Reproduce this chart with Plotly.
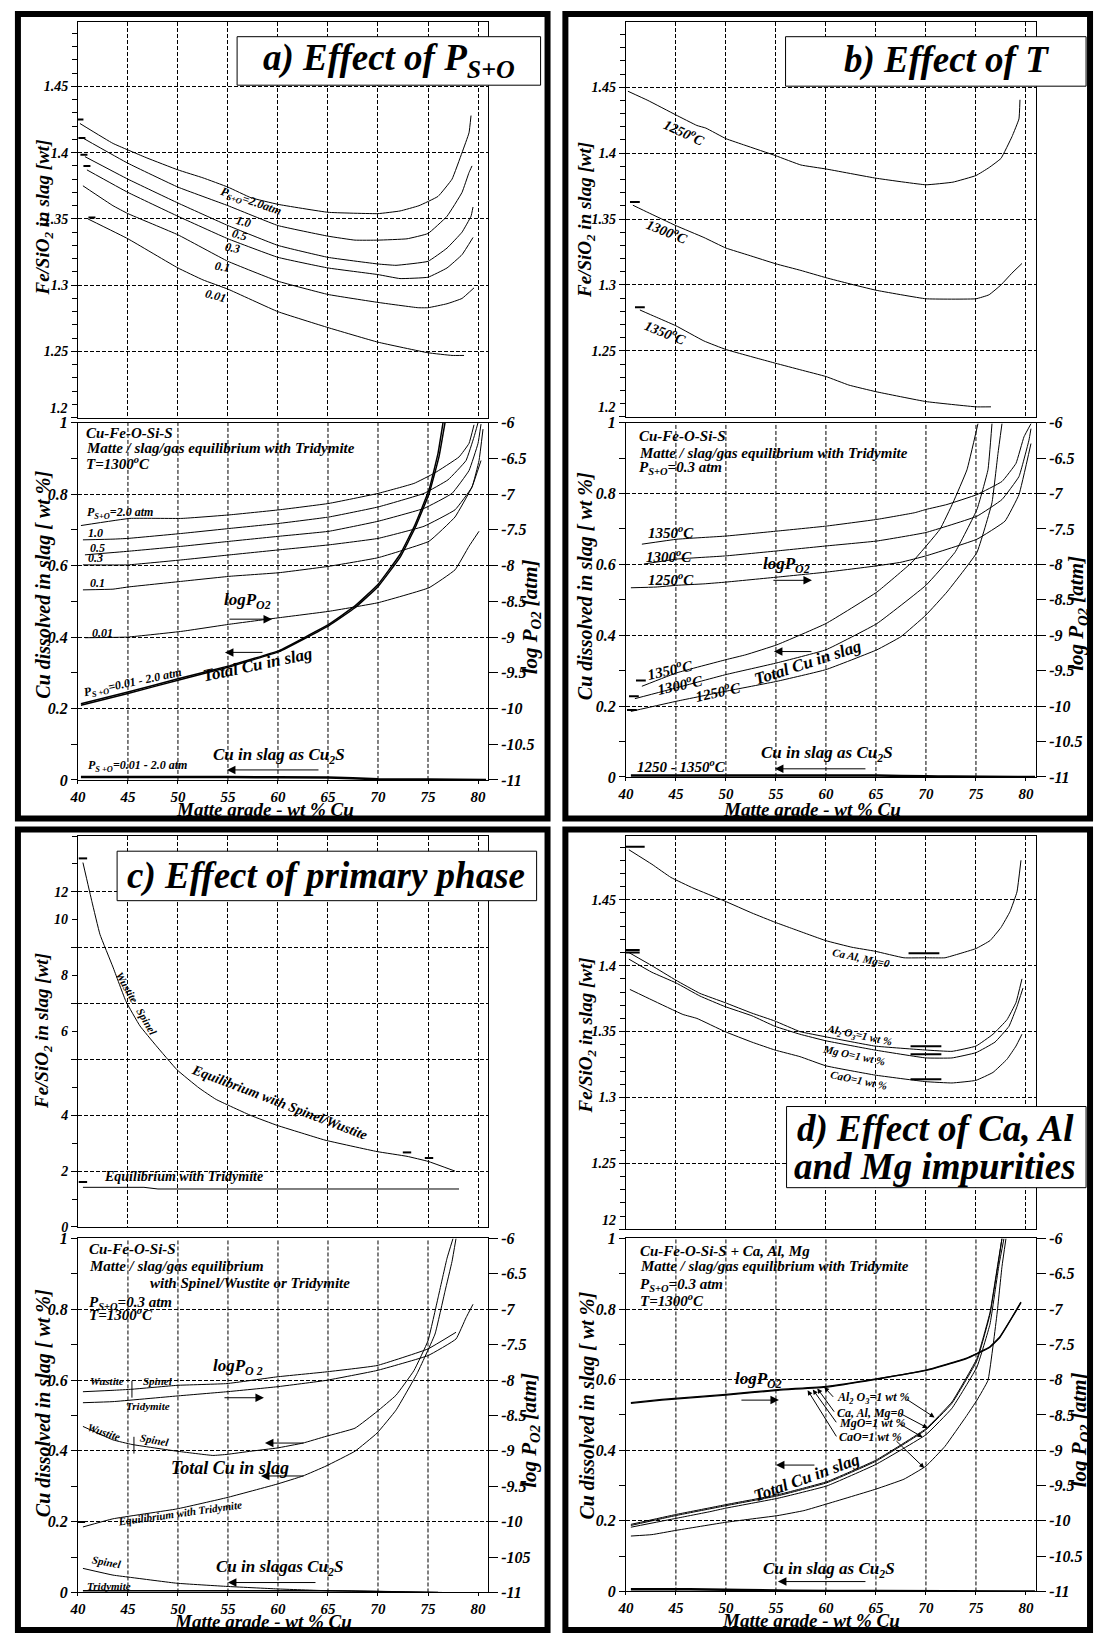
import plotly.graph_objects as go

FONT = "Liberation Serif"
W, H = 1094, 1644

# ---------------- tick labels ----------------
MATTE_TICKS = [40, 45, 50, 55, 60, 65, 70, 75, 80]
MATTE_LABELS = ["40", "45", "50", "55", "60", "65", "70", "75", "80"]
MATTE_GRID_UP = [45, 50, 55, 60, 65, 70, 75, 80]
MATTE_GRID_LO = [45, 50, 55, 60, 65, 70, 75]
CU_TICKS = [0, 0.2, 0.4, 0.6, 0.8, 1]
CU_LABELS = ["0", "0.2", "0.4", "0.6", "0.8", "1"]
LOGP_TICKS = [-11, -10.5, -10, -9.5, -9, -8.5, -8, -7.5, -7, -6.5, -6]
LOGP_LABELS = ["-11", "-10.5", "-10", "-9.5", "-9", "-8.5", "-8", "-7.5", "-7", "-6.5", "-6"]
LOGP_LABELS_C = ["-11", "-105", "-10", "-9.5", "-9", "-8.5", "-8", "-7.5", "-7", "-6.5", "-6"]
FE_TICKS = [1.2, 1.25, 1.3, 1.35, 1.4, 1.45]
FE_LABELS = ["", "1.25", "1.3", "1.35", "1.4", "1.45"]
FE_BOTTOM_LABELS = ["1.2", "1.2", None, "12"]   # bottom label of each upper panel, drawn slightly above the frame
FE_TICKS_C = [0, 2, 4, 6, 8, 10, 12]
FE_LABELS_C = ["0", "2", "4", "", "", "", "12"]
FE_SHIFTED_C = [7, 9, 11]
FE_SHIFTED_C_LABELS = ["6", "8", "10"]

# ---------------- panel a: effect of P(S+O) ----------------
A_FE20_X = [40.2, 43.5, 46.9, 50.0, 52.5, 55.0, 57.3, 60.0, 65.0, 70.0, 72.2, 74.1, 76.0, 77.4, 78.4, 79.1, 79.3]
A_FE20_Y = [1.422, 1.407, 1.396, 1.387, 1.381, 1.374, 1.366, 1.361, 1.355, 1.354, 1.356, 1.360, 1.367, 1.380, 1.400, 1.415, 1.428]
A_FE10_X = [40.5, 45.0, 50.0, 55.0, 60.0, 65.0, 67.7, 70.0, 72.9, 75.0, 76.9, 78.4, 79.1, 79.4]
A_FE10_Y = [1.411, 1.392, 1.374, 1.360, 1.345, 1.337, 1.334, 1.334, 1.335, 1.339, 1.352, 1.370, 1.385, 1.390]
A_FE05_X = [40.7, 45.0, 50.0, 55.0, 60.0, 65.0, 70.0, 71.8, 75.0, 76.9, 78.4, 79.3, 79.5]
A_FE05_Y = [1.397, 1.380, 1.362, 1.345, 1.330, 1.321, 1.316, 1.315, 1.318, 1.328, 1.340, 1.352, 1.359]
A_FE03_X = [40.9, 45.0, 50.0, 55.0, 60.0, 65.0, 70.0, 72.2, 75.0, 76.9, 78.4, 79.5]
A_FE03_Y = [1.387, 1.370, 1.352, 1.335, 1.321, 1.313, 1.308, 1.305, 1.306, 1.313, 1.323, 1.336]
A_FE01_X = [40.5, 43.5, 45.0, 50.0, 55.0, 60.0, 65.0, 70.0, 74.0, 75.0, 76.9, 78.4, 79.6]
A_FE01_Y = [1.375, 1.360, 1.354, 1.338, 1.318, 1.303, 1.293, 1.287, 1.283, 1.283, 1.286, 1.290, 1.298]
A_FE001_X = [41.0, 45.0, 50.0, 52.5, 55.0, 60.0, 65.0, 70.0, 75.0, 77.4, 78.6]
A_FE001_Y = [1.350, 1.335, 1.313, 1.304, 1.297, 1.280, 1.268, 1.257, 1.249, 1.247, 1.247]
A_PTS_X = [40.2, 40.4, 40.6, 40.9, 41.4]
A_PTS_Y = [1.425, 1.411, 1.3985, 1.390, 1.351]

A_PO20_X = [40.3, 45.2, 50.4, 55.2, 60.1, 65.1, 70.0, 73.6, 75.6, 78.1, 79.1, 79.6]
A_PO20_Y = [-7.44, -7.34, -7.34, -7.29, -7.22, -7.13, -6.99, -6.85, -6.71, -6.48, -6.29, -6.03]
A_PO10_X = [40.5, 43.5, 45.0, 50.4, 55.2, 60.1, 65.1, 70.0, 74.6, 77.0, 78.8, 79.6, 80.0]
A_PO10_Y = [-7.64, -7.63, -7.62, -7.55, -7.48, -7.41, -7.32, -7.18, -6.99, -6.80, -6.53, -6.20, -6.00]
A_PO05_X = [40.7, 45.0, 50.4, 55.2, 60.1, 65.1, 70.0, 74.6, 77.4, 79.1, 80.0, 80.3]
A_PO05_Y = [-7.85, -7.80, -7.73, -7.66, -7.59, -7.52, -7.38, -7.20, -6.99, -6.67, -6.29, -6.02]
A_PO03_X = [40.5, 45.0, 50.4, 55.2, 60.1, 65.1, 70.0, 74.6, 77.7, 79.4, 80.1, 80.5]
A_PO03_Y = [-7.99, -7.99, -7.92, -7.85, -7.78, -7.71, -7.62, -7.45, -7.22, -6.90, -6.53, -6.09]
A_PO01_X = [40.5, 43.5, 45.0, 50.4, 55.2, 60.1, 65.1, 70.0, 75.1, 77.7, 79.4, 80.3]
A_PO01_Y = [-8.34, -8.33, -8.30, -8.22, -8.15, -8.10, -8.01, -7.89, -7.66, -7.32, -6.90, -6.53]
A_PO001_X = [40.7, 45.0, 50.4, 55.2, 60.1, 65.1, 70.0, 75.1, 77.7, 79.1, 80.1]
A_PO001_Y = [-9.01, -9.00, -8.92, -8.82, -8.73, -8.64, -8.52, -8.31, -8.06, -7.73, -7.52]
A_TOT_X = [40.3, 45.0, 50.0, 55.2, 60.1, 65.1, 67.7, 70.0, 72.2, 73.7, 75.1, 76.0, 76.5]
A_TOT_HI_Y = [0.213, 0.246, 0.283, 0.320, 0.362, 0.436, 0.487, 0.547, 0.631, 0.714, 0.812, 0.914, 1.000]
A_TOT_LO_X = [40.3, 45.0, 50.0, 55.2, 60.1, 65.1, 67.7, 70.0, 72.2, 73.7, 75.1, 76.1, 76.7]
A_TOT_LO_Y = [0.209, 0.242, 0.279, 0.317, 0.359, 0.432, 0.482, 0.541, 0.623, 0.705, 0.801, 0.905, 1.000]
A_CU2S_X = [40.3, 55.0, 65.0, 70.0, 75.0, 80.8]
A_CU2S_Y = [0.008, 0.008, 0.007, 0.002, 0.001, 0.0]

# ---------------- panel b: effect of T ----------------
B_FE1250_X = [40.2, 42.2, 45.0, 47.1, 48.0, 50.0, 51.9, 55.0, 57.5, 60.0, 65.0, 70.0, 72.7, 75.0, 76.3, 77.5, 78.6, 79.3, 79.4]
B_FE1250_Y = [1.447, 1.440, 1.429, 1.421, 1.419, 1.411, 1.406, 1.398, 1.391, 1.388, 1.381, 1.376, 1.378, 1.383, 1.389, 1.396, 1.4125, 1.426, 1.4405]
B_FE1300_X = [40.7, 42.2, 45.0, 47.8, 50.0, 52.3, 55.0, 57.5, 60.0, 62.3, 65.0, 70.0, 75.0, 76.3, 77.5, 78.6, 79.6]
B_FE1300_Y = [1.3605, 1.355, 1.345, 1.336, 1.328, 1.3225, 1.316, 1.311, 1.3055, 1.301, 1.296, 1.2895, 1.2895, 1.2925, 1.300, 1.309, 1.3163]
B_FE1350_X = [41.4, 42.9, 45.0, 47.8, 50.0, 53.3, 55.0, 57.5, 60.0, 62.3, 65.0, 70.0, 75.0, 76.5]
B_FE1350_Y = [1.281, 1.276, 1.269, 1.2575, 1.251, 1.244, 1.2405, 1.2355, 1.2305, 1.224, 1.219, 1.2115, 1.2075, 1.2075]
B_PTS_X = [40.9, 41.4]
B_PTS_Y = [1.363, 1.283]

B_PO1350_X = [41.6, 45.1, 50.0, 55.1, 60.0, 65.1, 68.9, 70.0, 72.1, 75.1, 77.6, 79.0, 79.8, 80.5]
B_PO1350_Y = [-7.715, -7.645, -7.60, -7.53, -7.46, -7.365, -7.27, -7.225, -7.155, -7.015, -6.83, -6.575, -6.20, -6.015]
B_PO1300_X = [41.8, 45.1, 50.0, 55.1, 60.0, 65.1, 70.0, 75.1, 77.6, 79.3, 80.3, 80.5]
B_PO1300_Y = [-7.995, -7.925, -7.88, -7.81, -7.74, -7.67, -7.55, -7.32, -7.085, -6.76, -6.245, -6.085]
B_PO1250_X = [40.5, 43.0, 45.1, 47.8, 50.0, 55.1, 60.0, 65.1, 67.5, 70.0, 75.1, 77.9, 79.3, 80.5]
B_PO1250_Y = [-8.33, -8.32, -8.295, -8.275, -8.25, -8.18, -8.11, -8.02, -7.97, -7.88, -7.645, -7.39, -7.015, -6.295]
B_TOT1350_X = [41.6, 45.1, 50.0, 52.0, 55.1, 60.0, 65.1, 68.6, 71.4, 72.7, 74.1, 75.2]
B_TOT1350_Y = [0.256, 0.294, 0.331, 0.345, 0.373, 0.433, 0.522, 0.606, 0.699, 0.774, 0.867, 0.997]
B_TOT1300_X = [40.9, 45.1, 50.0, 55.1, 60.0, 65.1, 70.0, 72.9, 75.1, 76.2, 76.6]
B_TOT1300_Y = [0.221, 0.252, 0.289, 0.322, 0.359, 0.433, 0.541, 0.634, 0.755, 0.867, 0.997]
B_TOT1250_X = [40.5, 45.1, 50.0, 55.1, 60.0, 65.1, 67.5, 70.0, 72.1, 75.1, 76.6, 77.2, 77.6]
B_TOT1250_Y = [0.185, 0.214, 0.242, 0.270, 0.303, 0.359, 0.396, 0.457, 0.522, 0.634, 0.774, 0.913, 0.997]
B_CU2S_X = [40.5, 65.1, 70.0, 72.4, 80.9]
B_CU2S_Y = [0.004, 0.004, 0.002, 0.001, 0.0]
B_LPTS_X = [41.5, 40.8, 40.6]
B_LPTS_Y = [0.272, 0.228, 0.189]

# ---------------- panel c: effect of primary phase ----------------
C_FE_SW_X = [40.5, 41.4, 42.2, 43.5, 44.8, 46.2, 47.8, 49.9, 52.1, 53.8, 57.3, 59.9, 62.5, 64.7, 69.9, 72.9, 75.0, 77.7]
C_FE_SW_Y = [13.05, 11.65, 10.48, 9.31, 8.08, 7.2, 6.5, 5.63, 4.98, 4.57, 3.99, 3.64, 3.35, 3.11, 2.70, 2.53, 2.35, 2.0]
C_FE_TR_X = [40.5, 46.6, 48.0, 78.1]
C_FE_TR_Y = [1.42, 1.42, 1.36, 1.36]
C_PTS_X = [40.5, 72.9, 75.1, 40.5]
C_PTS_Y = [13.2, 2.67, 2.47, 1.61]

C_PO_SW_X = [40.5, 43.5, 45.4, 49.9, 54.9, 59.9, 64.8, 69.9, 75.0, 77.8]
C_PO_SW_Y = [-8.165, -8.145, -8.13, -8.075, -8.05, -7.955, -7.885, -7.795, -7.56, -7.325]
C_PO_TR_X = [40.5, 43.5, 49.9, 54.9, 59.9, 64.8, 69.9, 75.0, 77.8, 78.8, 79.5]
C_PO_TR_Y = [-8.32, -8.305, -8.225, -8.165, -8.095, -8.005, -7.865, -7.655, -7.42, -7.12, -6.93]
C_TOT_SW_X = [40.5, 43.5, 45.4, 49.9, 53.5, 54.9, 57.3, 59.9, 62.5, 64.8, 67.7, 69.9, 71.8, 73.6, 75.0, 76.0, 76.9, 77.5]
C_TOT_SW_Y = [0.469, 0.431, 0.418, 0.399, 0.387, 0.390, 0.399, 0.408, 0.422, 0.441, 0.464, 0.511, 0.557, 0.627, 0.711, 0.832, 0.944, 1.0]
C_TOT_TR_X = [40.5, 43.5, 49.9, 54.9, 59.9, 62.5, 64.8, 67.7, 69.9, 71.8, 73.9, 75.7, 76.7, 77.4, 77.8]
C_TOT_TR_Y = [0.185, 0.208, 0.236, 0.268, 0.306, 0.329, 0.357, 0.399, 0.45, 0.515, 0.618, 0.73, 0.851, 0.935, 1.0]
C_CU2S_SP_X = [40.5, 43.5, 45.4, 49.9, 54.9, 59.9, 64.8, 69.9, 76.4]
C_CU2S_SP_Y = [0.068, 0.049, 0.042, 0.026, 0.017, 0.010, 0.005, 0.003, 0.0]
C_CU2S_TR_X = [40.5, 64.8, 69.9, 76.0]
C_CU2S_TR_Y = [0.005, 0.005, 0.003, 0.0]
C_BOUND_X = [45.4, 45.6]
C_BOUND_Y = [0.574, 0.416]
C_LPTS_X = [40.3]
C_LPTS_Y = [0.199]

# ---------------- panel d: effect of Ca, Al, Mg ----------------
D_FE0_X = [40.3, 42.6, 44.5, 46.7, 49.9, 52.6, 54.9, 56.7, 60.0, 62.6, 64.9, 67.8, 70.0, 71.9, 73.3, 75.0, 76.4, 77.5, 78.4, 79.1, 79.5]
D_FE0_Y = [1.488, 1.477, 1.467, 1.459, 1.449, 1.440, 1.433, 1.428, 1.419, 1.414, 1.411, 1.406, 1.406, 1.406, 1.409, 1.413, 1.419, 1.429, 1.441, 1.456, 1.480]
D_FEAL_X = [40.3, 42.6, 45.0, 47.4, 49.9, 52.6, 54.9, 57.4, 60.0, 64.9, 70.0, 72.6, 75.0, 76.7, 78.1, 79.0, 79.6]
D_FEAL_Y = [1.410, 1.400, 1.389, 1.379, 1.372, 1.364, 1.358, 1.350, 1.346, 1.339, 1.336, 1.335, 1.339, 1.348, 1.359, 1.372, 1.390]
D_FEMG_X = [40.3, 42.6, 45.0, 47.4, 49.9, 52.6, 54.9, 57.4, 60.0, 64.9, 70.0, 72.6, 75.0, 76.9, 78.3, 79.1, 79.7]
D_FEMG_Y = [1.405, 1.395, 1.387, 1.377, 1.369, 1.362, 1.354, 1.348, 1.343, 1.336, 1.330, 1.330, 1.334, 1.342, 1.354, 1.369, 1.383]
D_FECA_X = [40.4, 42.6, 45.7, 47.1, 49.9, 52.6, 54.9, 57.4, 60.0, 64.9, 70.0, 72.6, 75.0, 76.7, 78.1, 79.0, 79.6]
D_FECA_Y = [1.382, 1.374, 1.363, 1.360, 1.350, 1.342, 1.336, 1.331, 1.324, 1.317, 1.312, 1.311, 1.313, 1.319, 1.329, 1.339, 1.348]
D_PTS_L_X = [40.9, 40.4, 40.4]
D_PTS_L_Y = [1.4903, 1.412, 1.410]
D_PTS_70_X = [69.8, 70.0, 70.0, 70.0]
D_PTS_70_Y = [1.4095, 1.3388, 1.3328, 1.3139]

D_PO_X = [40.5, 43.6, 50.0, 55.2, 60.1, 65.0, 70.0, 74.0, 76.4, 77.4, 78.8, 79.5]
D_PO_A_Y = [-8.335, -8.29, -8.22, -8.15, -8.105, -7.995, -7.87, -7.705, -7.54, -7.40, -7.075, -6.91]
D_PO_B_Y = [-8.325, -8.28, -8.21, -8.14, -8.095, -7.99, -7.865, -7.70, -7.535, -7.39, -7.07, -6.90]
D_TOT_X = [40.5, 45.0, 48.4, 50.0, 55.2, 60.1, 65.0, 70.0, 72.6, 75.1, 76.4, 77.2, 77.6]
D_TOT_AL_Y = [0.190, 0.218, 0.237, 0.246, 0.274, 0.311, 0.372, 0.461, 0.537, 0.660, 0.790, 0.930, 1.0]
D_TOT_0_Y = [0.187, 0.215, 0.234, 0.243, 0.271, 0.308, 0.369, 0.458, 0.533, 0.654, 0.785, 0.925, 1.0]
D_TOT_MG_X = [40.5, 45.0, 48.4, 50.0, 55.2, 60.1, 65.0, 70.0, 72.6, 75.1, 76.4, 77.3, 77.8]
D_TOT_MG_Y = [0.182, 0.207, 0.226, 0.236, 0.264, 0.299, 0.360, 0.444, 0.519, 0.636, 0.757, 0.925, 1.0]
D_TOT_CA_X = [40.5, 42.6, 45.0, 50.0, 55.2, 57.8, 60.1, 65.0, 67.8, 70.0, 71.9, 74.0, 75.1, 76.2, 77.1, 77.6, 78.0]
D_TOT_CA_Y = [0.157, 0.161, 0.173, 0.196, 0.215, 0.229, 0.248, 0.290, 0.318, 0.355, 0.411, 0.495, 0.542, 0.598, 0.785, 0.920, 1.0]
D_CU2S_X = [40.5, 46.4, 56.7, 65.0, 80.9]
D_CU2S_Y = [0.0065, 0.0065, 0.002, 0.001, 0.0]

# ---------------- geometry (pixels) ----------------
PANELS = [
    dict(xl=69.5, xr=483, ut=14, ub=414, lt=419, lb=780, ur=[1.2, 1.4987]),
    dict(xl=622, xr=1035.5, ut=14.3, ub=413, lt=419, lb=777, ur=[1.2, 1.4994]),
    dict(xl=69.5, xr=483, ut=836.7, ub=1231.7, lt=1243.3, lb=1601, ur=[0, 14]),
    dict(xl=622, xr=1035.5, ut=836.7, ub=1234, lt=1243.3, lb=1600, ur=[1.2, 1.4984]),
]


def xid(n):
    return "x" if n == 1 else f"x{n}"


def yid(n):
    return "y" if n == 1 else f"y{n}"


def xkey(n):
    return "xaxis" if n == 1 else f"xaxis{n}"


def ykey(n):
    return "yaxis" if n == 1 else f"yaxis{n}"


def fnt(size):
    return dict(family=FONT, size=size, color="black", weight="bold", style="italic")


GRID = dict(showgrid=True, gridcolor="black", gridwidth=1, griddash="4px,2px")

fig = go.Figure()
layout = {}
shapes = []
ANN = []


def txt(s, x, y, xr, yr, size=15, angle=0, xa="left", ya="middle"):
    ANN.append(dict(text=s, x=x, y=y, xref=xr, yref=yr, showarrow=False, textangle=angle,
                    xanchor=xa, yanchor=ya, font=fnt(size)))


def ptxt(s, px, py, size, angle=0, xa="center", ya="middle"):
    txt(s, px / W, 1 - py / H, "paper", "paper", size, angle, xa, ya)


for i, P in enumerate(PANELS):
    u, l, r = 3 * i + 1, 3 * i + 2, 3 * i + 3
    xdom = [P["xl"] / W, P["xr"] / W]
    udom = [1 - P["ub"] / H, 1 - P["ut"] / H]
    ldom = [1 - P["lb"] / H, 1 - P["lt"] / H]
    layout[xkey(u)] = dict(domain=xdom, range=[40, 81], anchor=yid(u), showline=True, mirror=True,
                           linecolor="black", linewidth=1, tickvals=MATTE_GRID_UP, showticklabels=False,
                           ticks="", zeroline=False, **GRID)
    if i == 2:
        yticks, ylabels, mdt = FE_TICKS_C, FE_LABELS_C, 1
    else:
        yticks, ylabels, mdt = FE_TICKS, FE_LABELS, 0.01
    layout[ykey(u)] = dict(domain=udom, range=P["ur"], anchor=xid(u), showline=True, mirror=True,
                           linecolor="black", linewidth=1, tickvals=yticks, ticktext=ylabels,
                           ticks="outside", ticklen=6, tickcolor="black", tickfont=fnt(14),
                           minor=dict(dtick=mdt, ticks="outside", ticklen=5, tickcolor="black", showgrid=False),
                           zeroline=False, **GRID)
    if FE_BOTTOM_LABELS[i]:
        ptxt(FE_BOTTOM_LABELS[i], P["xl"] - 8, P["ub"] - 9, 14, 0, "right")
    layout[xkey(l)] = dict(domain=xdom, range=[40, 81], anchor=yid(l), showline=True, mirror=True,
                           linecolor="black", linewidth=1, tickvals=MATTE_TICKS, ticktext=MATTE_LABELS,
                           ticks="outside", ticklen=3, tickcolor="black", tickfont=fnt(15),
                           showgrid=False, zeroline=False)
    layout[ykey(l)] = dict(domain=ldom, range=[0, 1], anchor=xid(l), showline=True, mirror=False,
                           linecolor="black", linewidth=1, tickvals=CU_TICKS, ticktext=CU_LABELS,
                           ticks="outside", ticklen=6, tickcolor="black", tickfont=fnt(16),
                           minor=dict(dtick=0.1, ticks="outside", ticklen=6, tickcolor="black", showgrid=False),
                           zeroline=False, **GRID)
    layout[ykey(r)] = dict(overlaying=yid(l), anchor=xid(l), side="right", range=[-11, -6],
                           showline=True, linecolor="black", linewidth=1, tickvals=LOGP_TICKS,
                           ticktext=(LOGP_LABELS_C if i == 2 else LOGP_LABELS),
                           ticks="outside", ticklen=9, tickcolor="black", tickfont=fnt(16),
                           showgrid=False, zeroline=False)
    for v in MATTE_GRID_LO:
        shapes.append(dict(type="line", xref=xid(l), yref=f"{yid(l)} domain", x0=v, x1=v, y0=0, y1=1,
                           line=dict(color="black", width=1, dash="4px,2px"), layer="below"))


def line(x, y, xa, ya, w=1.0):
    fig.add_trace(go.Scatter(x=x, y=y, xaxis=xa, yaxis=ya, mode="lines",
                             line=dict(color="black", width=w, shape="spline", smoothing=0.3),
                             hoverinfo="skip"))


def bars(x, y, xa, ya, size=7):
    fig.add_trace(go.Scatter(x=x, y=y, xaxis=xa, yaxis=ya, mode="markers",
                             marker=dict(symbol="line-ew", size=size, line=dict(color="black", width=2)),
                             hoverinfo="skip"))


def arrow(tail, head, xr, yr, size=1.7, head_style=2):
    ANN.append(dict(text="", x=head[0], y=head[1], ax=tail[0], ay=tail[1], xref=xr, yref=yr,
                    axref=xr, ayref=yr, showarrow=True, arrowhead=head_style, arrowsize=size,
                    arrowwidth=1, arrowcolor="black", standoff=0))


def box(x0, y0, x1, y1):
    shapes.append(dict(type="rect", xref="paper", yref="paper", x0=x0 / W, x1=x1 / W,
                       y0=1 - y1 / H, y1=1 - y0 / H, line=dict(color="black", width=1),
                       fillcolor="white", layer="above"))


# ======== panel a ========
xu, yu, xl_, yl_, yr_ = "x", "y", "x2", "y2", "y3"
for xs, ys in [(A_FE20_X, A_FE20_Y), (A_FE10_X, A_FE10_Y), (A_FE05_X, A_FE05_Y),
               (A_FE03_X, A_FE03_Y), (A_FE01_X, A_FE01_Y), (A_FE001_X, A_FE001_Y)]:
    line(xs, ys, xu, yu)
bars(A_PTS_X, A_PTS_Y, xu, yu, 5)
for xs, ys in [(A_PO20_X, A_PO20_Y), (A_PO10_X, A_PO10_Y), (A_PO05_X, A_PO05_Y),
               (A_PO03_X, A_PO03_Y), (A_PO01_X, A_PO01_Y), (A_PO001_X, A_PO001_Y)]:
    line(xs, ys, xl_, yr_)
line(A_TOT_X, A_TOT_HI_Y, xl_, yl_, 1.5)
line(A_TOT_LO_X, A_TOT_LO_Y, xl_, yl_, 1.5)
line(A_CU2S_X, A_CU2S_Y, xl_, yl_, 2.5)

txt("P<sub>S+O</sub>=2.0atm", 57.3, 1.3624, xu, yu, 12, 19, "center")
txt("1.0", 56.6, 1.348, xu, yu, 12, 15, "center")
txt("0.5", 56.2, 1.3376, xu, yu, 12, 15, "center")
txt("0.3", 55.5, 1.328, xu, yu, 12, 10, "center")
txt("0.1", 54.5, 1.314, xu, yu, 12, 10, "center")
txt("0.01", 53.8, 1.2915, xu, yu, 12, 15, "center")
txt("Cu-Fe-O-Si-S", 40.6, 0.972, xl_, yl_, 15)
txt("Matte / slag/gas equilibrium with Tridymite", 40.6, 0.928, xl_, yl_, 15)
txt("T=1300<sup>o</sup>C", 40.6, 0.886, xl_, yl_, 15)
txt("P<sub>S+O</sub>=2.0 atm", 40.7, 0.748, xl_, yl_, 12)
txt("1.0", 40.8, 0.690, xl_, yl_, 12)
txt("0.5", 41.0, 0.650, xl_, yl_, 12)
txt("0.3", 40.8, 0.620, xl_, yl_, 12)
txt("0.1", 41.0, 0.550, xl_, yl_, 12)
txt("0.01", 41.2, 0.411, xl_, yl_, 12)
txt("P<sub>S +O</sub>=0.01 - 2.0 atm", 45.5, 0.272, xl_, yl_, 12, -12, "center")
txt("P<sub>S +O</sub>=0.01 - 2.0 atm", 40.8, 0.040, xl_, yl_, 12)
txt("logP<sub>O2</sub>", 57.0, 0.50, xl_, yl_, 17, 0, "center")
arrow((55.0, 0.45), (59.4, 0.45), xl_, yl_)
txt("Total Cu in slag", 58.0, 0.322, xl_, yl_, 17, -12, "center")
arrow((58.6, 0.357), (54.7, 0.357), xl_, yl_)
txt("Cu in slag as Cu<sub>2</sub>S", 60.1, 0.066, xl_, yl_, 17, 0, "center")
arrow((64.2, 0.028), (54.9, 0.028), xl_, yl_)

# ======== panel b ========
xu, yu, xl_, yl_, yr_ = "x4", "y4", "x5", "y5", "y6"
for xs, ys in [(B_FE1250_X, B_FE1250_Y), (B_FE1300_X, B_FE1300_Y), (B_FE1350_X, B_FE1350_Y)]:
    line(xs, ys, xu, yu)
bars(B_PTS_X, B_PTS_Y, xu, yu, 7)
for xs, ys in [(B_PO1350_X, B_PO1350_Y), (B_PO1300_X, B_PO1300_Y), (B_PO1250_X, B_PO1250_Y)]:
    line(xs, ys, xl_, yr_)
for xs, ys in [(B_TOT1350_X, B_TOT1350_Y), (B_TOT1300_X, B_TOT1300_Y), (B_TOT1250_X, B_TOT1250_Y)]:
    line(xs, ys, xl_, yl_)
line(B_CU2S_X, B_CU2S_Y, xl_, yl_, 2.5)
bars(B_LPTS_X, B_LPTS_Y, xl_, yl_, 7)

txt("1250<sup>o</sup>C", 45.9, 1.416, xu, yu, 14, 25, "center")
txt("1300<sup>o</sup>C", 44.2, 1.341, xu, yu, 14, 22, "center")
txt("1350<sup>o</sup>C", 44.0, 1.264, xu, yu, 14, 22, "center")
txt("Cu-Fe-O-Si-S", 41.1, 0.962, xl_, yl_, 15)
txt("Matte / slag/gas equilibrium with Tridymite", 41.1, 0.915, xl_, yl_, 15)
txt("P<sub>S+O</sub>=0.3 atm", 41.1, 0.873, xl_, yl_, 15)
txt("1350<sup>o</sup>C", 42.0, 0.692, xl_, yl_, 15)
txt("1300<sup>o</sup>C", 41.8, 0.625, xl_, yl_, 15)
txt("1250<sup>o</sup>C", 42.0, 0.559, xl_, yl_, 15)
txt("logP<sub>O2</sub>", 56.1, 0.598, xl_, yl_, 17, 0, "center")
arrow((54.6, 0.555), (58.6, 0.555), xl_, yl_)
txt("1350<sup>o</sup>C", 44.4, 0.305, xl_, yl_, 15, -12, "center")
txt("1300<sup>o</sup>C", 45.4, 0.262, xl_, yl_, 15, -12, "center")
txt("1250<sup>o</sup>C", 49.2, 0.243, xl_, yl_, 15, -12, "center")
txt("Total Cu in slag", 58.2, 0.324, xl_, yl_, 17, -18, "center")
arrow((58.7, 0.354), (54.8, 0.354), xl_, yl_)
txt("Cu in slag as Cu<sub>2</sub>S", 60.1, 0.064, xl_, yl_, 17, 0, "center")
arrow((64.1, 0.023), (54.9, 0.023), xl_, yl_)
txt("1250 - 1350<sup>o</sup>C", 40.9, 0.030, xl_, yl_, 15)

# ======== panel c ========
xu, yu, xl_, yl_, yr_ = "x7", "y7", "x8", "y8", "y9"
line(C_FE_SW_X, C_FE_SW_Y, xu, yu)
fig.add_trace(go.Scatter(x=C_FE_TR_X, y=C_FE_TR_Y, xaxis=xu, yaxis=yu, mode="lines",
                         line=dict(color="black", width=1), hoverinfo="skip"))
bars(C_PTS_X, C_PTS_Y, xu, yu, 6)
line(C_PO_SW_X, C_PO_SW_Y, xl_, yr_)
line(C_PO_TR_X, C_PO_TR_Y, xl_, yr_)
line(C_TOT_SW_X, C_TOT_SW_Y, xl_, yl_)
line(C_TOT_TR_X, C_TOT_TR_Y, xl_, yl_)
line(C_CU2S_SP_X, C_CU2S_SP_Y, xl_, yl_)
line(C_CU2S_TR_X, C_CU2S_TR_Y, xl_, yl_, 1.5)
fig.add_trace(go.Scatter(x=C_BOUND_X, y=C_BOUND_Y, xaxis=xl_, yaxis=yl_, mode="markers",
                         marker=dict(symbol="line-ns", size=12, line=dict(color="black", width=1)),
                         hoverinfo="skip"))
bars(C_LPTS_X, C_LPTS_Y, xl_, yl_, 6)
PC = PANELS[2]
for v, t in zip(FE_SHIFTED_C, FE_SHIFTED_C_LABELS):
    py = PC["ub"] - (v - PC["ur"][0]) / (PC["ur"][1] - PC["ur"][0]) * (PC["ub"] - PC["ut"])
    ptxt(t, PC["xl"] - 8, py, 14, 0, "right")

txt("Wustite   Spinel", 45.9, 8.0, xu, yu, 11, 60, "center")
txt("Equilibrium with Spinel/Wustite", 60.2, 4.46, xu, yu, 14, 21, "center")
txt("Equilibrium with Tridymite", 42.4, 1.80, xu, yu, 14)
txt("Cu-Fe-O-Si-S", 40.9, 0.970, xl_, yl_, 15)
txt("Matte / slag/gas equilibrium", 40.9, 0.921, xl_, yl_, 15)
txt("with Spinel/Wustite or Tridymite", 47.0, 0.874, xl_, yl_, 15)
txt("P<sub>S+O</sub>=0.3 atm", 40.9, 0.818, xl_, yl_, 15)
txt("T=1300<sup>o</sup>C", 40.9, 0.786, xl_, yl_, 15)
txt("Wustite", 41.0, 0.596, xl_, yl_, 11)
txt("Spinel", 46.3, 0.596, xl_, yl_, 11)
txt("Tridymite", 44.6, 0.527, xl_, yl_, 11)
txt("Wustite", 42.6, 0.452, xl_, yl_, 11, 18, "center")
txt("Spinel", 47.7, 0.430, xl_, yl_, 11, 10, "center")
txt("logP<sub>O 2</sub>", 56.0, 0.637, xl_, yl_, 17, 0, "center")
arrow((54.5, 0.55), (58.6, 0.55), xl_, yl_)
arrow((62.7, 0.422), (58.7, 0.422), xl_, yl_)
txt("Total Cu in slag", 55.2, 0.352, xl_, yl_, 18, 0, "center")
arrow((62.7, 0.329), (58.3, 0.329), xl_, yl_)
txt("Equilibrium with Tridymite", 50.2, 0.225, xl_, yl_, 11, -8, "center")
txt("Spinel", 42.9, 0.085, xl_, yl_, 11, 10, "center")
txt("Tridymite", 43.1, 0.018, xl_, yl_, 11, 0, "center")
txt("Cu in slagas Cu<sub>2</sub>S", 60.2, 0.070, xl_, yl_, 17, 0, "center")
arrow((63.9, 0.028), (55.0, 0.028), xl_, yl_)

# ======== panel d ========
xu, yu, xl_, yl_, yr_ = "x10", "y10", "x11", "y11", "y12"
for xs, ys in [(D_FE0_X, D_FE0_Y), (D_FEAL_X, D_FEAL_Y), (D_FEMG_X, D_FEMG_Y), (D_FECA_X, D_FECA_Y)]:
    line(xs, ys, xu, yu)
bars(D_PTS_L_X, D_PTS_L_Y, xu, yu, 14)
bars(D_PTS_70_X, D_PTS_70_Y, xu, yu, 22)
line(D_PO_X, D_PO_A_Y, xl_, yr_, 1.3)
line(D_PO_X, D_PO_B_Y, xl_, yr_, 1.3)
line(D_TOT_X, D_TOT_AL_Y, xl_, yl_)
line(D_TOT_X, D_TOT_0_Y, xl_, yl_)
line(D_TOT_MG_X, D_TOT_MG_Y, xl_, yl_)
line(D_TOT_CA_X, D_TOT_CA_Y, xl_, yl_)
line(D_CU2S_X, D_CU2S_Y, xl_, yl_, 2.5)

txt("Ca Al, Mg=0", 63.6, 1.406, xu, yu, 11, 12, "center")
txt("Al<sub>2</sub> O<sub>3</sub>=1 wt %", 63.4, 1.347, xu, yu, 11, 12, "center")
txt("Mg O=1 wt %", 62.8, 1.332, xu, yu, 11, 12, "center")
txt("CaO=1 wt %", 63.3, 1.313, xu, yu, 11, 12, "center")
txt("Cu-Fe-O-Si-S + Ca, Al, Mg", 41.2, 0.965, xl_, yl_, 15)
txt("Matte / slag/gas equilibrium with Tridymite", 41.2, 0.921, xl_, yl_, 15)
txt("P<sub>S+O</sub>=0.3 atm", 41.2, 0.869, xl_, yl_, 15)
txt("T=1300<sup>o</sup>C", 41.2, 0.827, xl_, yl_, 15)
txt("logP<sub>O2</sub>", 53.3, 0.598, xl_, yl_, 17, 0, "center")
arrow((51.4, 0.542), (55.3, 0.542), xl_, yl_)
txt("Al<sub>2</sub> O<sub>3</sub>=1 wt %", 60.9, 0.547, xl_, yl_, 12)
txt("Ca, Al, Mg=0", 60.9, 0.505, xl_, yl_, 12)
txt("MgO=1 wt %", 61.1, 0.477, xl_, yl_, 12)
txt("CaO=1 wt %", 61.1, 0.437, xl_, yl_, 12)
arrow((60.86, 0.547), (59.83, 0.579), xl_, yl_, 1.0)
arrow((60.93, 0.505), (59.14, 0.575), xl_, yl_, 1.0)
arrow((61.14, 0.475), (58.69, 0.572), xl_, yl_, 1.0)
arrow((61.14, 0.435), (58.17, 0.570), xl_, yl_, 1.0)
arrow((67.93, 0.547), (70.86, 0.493), xl_, yl_, 1.0)
arrow((67.24, 0.507), (70.17, 0.463), xl_, yl_, 1.0)
arrow((67.24, 0.477), (69.66, 0.437), xl_, yl_, 1.0)
arrow((66.9, 0.430), (69.83, 0.350), xl_, yl_, 1.0)
txt("Total Cu in slag", 58.1, 0.322, xl_, yl_, 17, -20, "center")
arrow((59.0, 0.358), (55.0, 0.358), xl_, yl_)
txt("Cu in slag as Cu<sub>2</sub>S", 60.3, 0.062, xl_, yl_, 17, 0, "center")
arrow((64.1, 0.028), (55.2, 0.028), xl_, yl_)

# ======== axis titles (pixel positions) ========
AXT = [
    dict(lx=35, uy=212, ly=583, rx=526, ry=615, tx=258, ty=810),
    dict(lx=582, uy=214, ly=584, rx=1077, ry=612, tx=810, ty=810),
    dict(lx=35, uy=1034, ly=1410, rx=525, ry=1437, tx=256, ty=1630),
    dict(lx=583, uy=1038, ly=1412, rx=1080, ry=1437, tx=809, ty=1629),
]
for a in AXT:
    ptxt("Fe/SiO<sub>2</sub> in slag [wt]", a["lx"], a["uy"], 19, -90)
    ptxt("Cu dissolved in slag [ wt %]", a["lx"], a["ly"], 20, -90)
    ptxt("log P<sub>O2</sub> [atm]", a["rx"], a["ry"], 21, -90)
    ptxt("Matte grade - wt % Cu", a["tx"], a["ty"], 19)

# ======== title boxes ========
box(230, 29, 536, 78)
ptxt("a) Effect of P<sub>S+O</sub>", 383, 53, 37)
box(783, 29, 1086, 79)
ptxt("b) Effect of T", 945, 53, 37)
box(109, 852, 532, 902)
ptxt("c) Effect of primary phase", 320, 877, 37)
box(784, 1110, 1086, 1192)
ptxt("d) Effect of Ca, Al", 934, 1133, 37)
ptxt("and Mg impurities", 934, 1171, 37)

# ======== thick panel borders ========
for x0, y0, x1, y1 in [(9, 6, 543, 819), (561, 6, 1090, 819), (9, 830, 543, 1639), (561, 830, 1090, 1639)]:
    shapes.append(dict(type="rect", xref="paper", yref="paper", x0=x0 / W, x1=x1 / W,
                       y0=1 - y1 / H, y1=1 - y0 / H, line=dict(color="black", width=6), layer="above"))

fig.update_layout(**layout)
fig.update_layout(width=W, height=H, margin=dict(l=0, r=0, t=0, b=0), showlegend=False,
                  paper_bgcolor="white", plot_bgcolor="rgba(0,0,0,0)",
                  shapes=shapes, annotations=ANN, font=dict(family=FONT))
fig.write_html("out.html", config={"displayModeBar": False, "staticPlot": True},
               post_script="document.body.style.margin='0px';document.body.style.padding='0px';"
                           "document.body.style.overflow='hidden';")
